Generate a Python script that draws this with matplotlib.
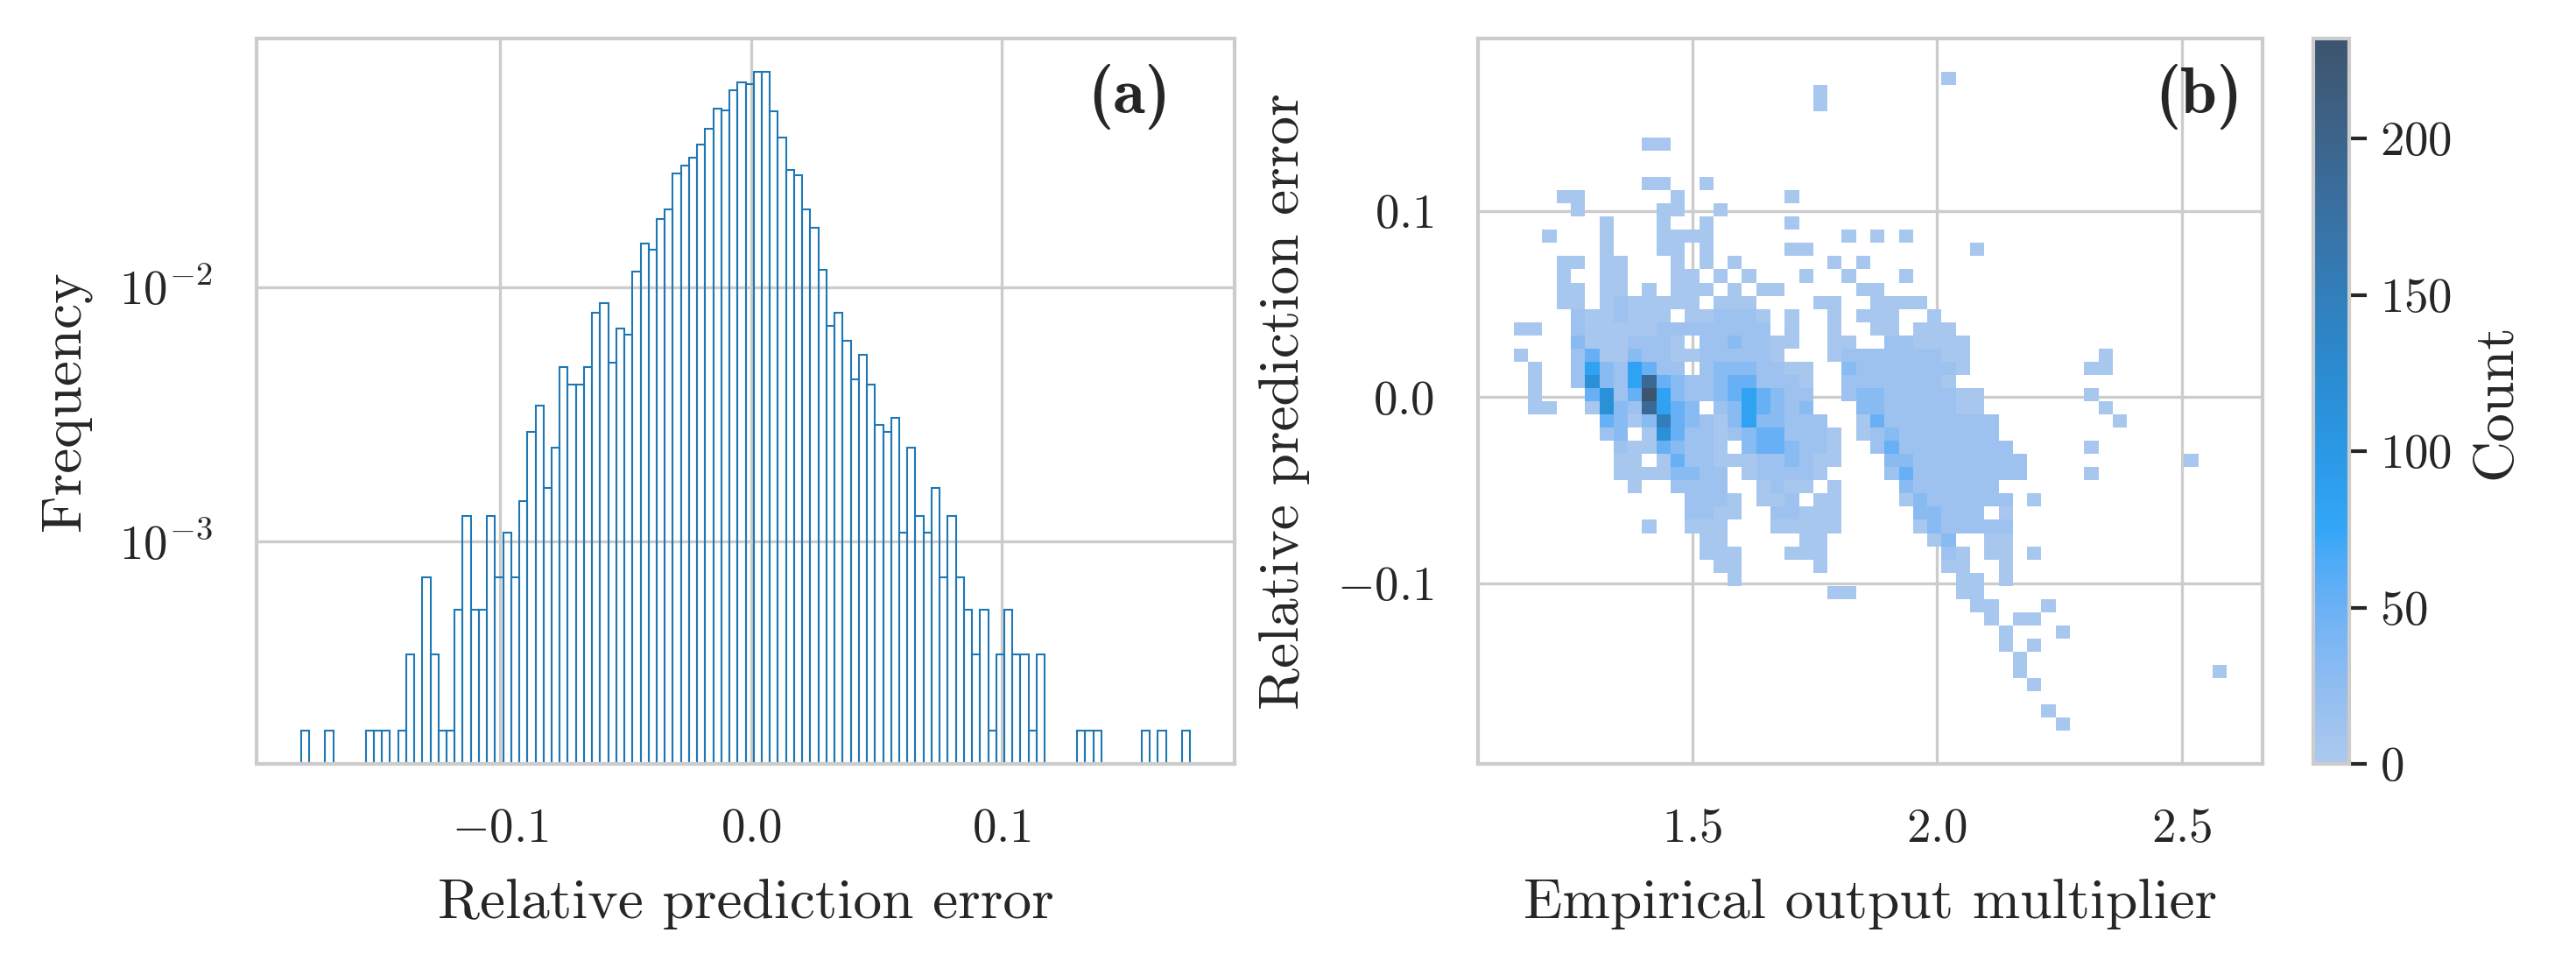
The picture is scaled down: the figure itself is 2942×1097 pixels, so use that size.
import numpy as np
import matplotlib
matplotlib.use("Agg")
import matplotlib.pyplot as plt
from matplotlib.colors import ListedColormap, to_rgba
from matplotlib.ticker import MultipleLocator
import seaborn as sns
from seaborn.external import husl

# panel (a): counts per bin of the relative prediction error (110 bins)
err_range = (-0.1795, 0.1752)
err_counts = [1, 0, 0, 1, 0, 0, 0, 0, 1, 1, 1, 0, 1, 2, 0, 4, 2, 1, 1, 3,
              7, 3, 3, 7, 4, 6, 4, 8, 15, 19, 9, 13, 27, 23, 23, 27, 44, 48, 28, 38,
              36, 64, 82, 78, 103, 112, 155, 166, 179, 202, 232, 278, 274, 329, 354, 348, 390, 390, 273, 215,
              160, 153, 112, 95, 65, 39, 44, 34, 24, 30, 23, 16, 15, 17, 6, 13, 7, 6, 9, 4,
              7, 4, 3, 2, 3, 1, 2, 3, 2, 2, 1, 2, 0, 0, 0, 0, 1, 1, 1, 0,
              0, 0, 0, 0, 1, 0, 1, 0, 0, 1]

# panel (b): 50 x 50 grid, multiplier on x, error on y
mult_range = (1.1352, 2.5923)
n_mult_bins = 50
n_err_bins = 50
# colour level read off each cell -> approximate count
level_counts = {1: 4, 2: 14, 3: 30, 4: 52, 5: 82, 6: 115, 7: 150, 8: 190, 9: 232}
# (row from top, first column, levels) ; '.' = empty cell
grid_segments = [
    (0, 30, "1"),
    (1, 21, "1"),
    (2, 21, "1"),
    (5, 9, "11"),
    (8, 9, "11..1"),
    (9, 3, "11......1.......1"),
    (10, 4, "1.....11..1"),
    (11, 6, "1...1..1.....1"),
    (12, 2, "1...1...1111.........1.1.1"),
    (13, 6, "1...11.1.....11...........1"),
    (14, 3, "11.11...1.1.1......1.1"),
    (15, 3, "1..11...11.1.1...1..1...1"),
    (16, 3, "11.11.1.111.1.11.....11"),
    (17, 3, "11.1211111.111....11..1111"),
    (18, 4, "2112111.112221.1..1.111..1"),
    (19, 0, "11..21111122222222.1..1..11.111"),
    (20, 4, "31112221.2232211..11..221111"),
    (21, 0, "1...241132211222221...1222222211.........1"),
    (22, 1, "1..25325422.23332211..322222221........11"),
    (23, 1, "1..26325843223442221..22222221"),
    (24, 1, "1...4624953223454322..2332222211.......1"),
    (25, 1, "11..16328543.2354323...332222211........1"),
    (26, 6, "4313743213533222..1422222222........1"),
    (27, 6, "23.16422123442221.1232222222"),
    (28, 7, "21143221.3443221..2422222222.....1"),
    (29, 7, "11.1422111223211...3322222222...........1"),
    (30, 7, "11113322.122221....2422222222....1"),
    (31, 8, "1..2222..1211.1....3222222"),
    (32, 12, "2221.112.11....13222222.1"),
    (33, 12, "2211..22111.....33222.1"),
    (34, 9, "1..111...11111.....1322222"),
    (35, 13, "11.....11.......13..11"),
    (36, 13, "111...111........21.11.1"),
    (37, 14, "11.....1........11..1"),
    (38, 15, "1...............11.1"),
    (39, 22, "11.......11"),
    (40, 32, "11...1"),
    (41, 33, "1.11"),
    (42, 34, "1...1"),
    (43, 34, "1.1"),
    (44, 35, "1"),
    (45, 35, "1.............1"),
    (46, 36, "1"),
    (48, 37, "1"),
    (49, 38, "1"),
]

sns.set_style("whitegrid")
sns.set_context("paper", font_scale=1.5)
plt.rcParams["font.family"] = "cmr10"
plt.rcParams["mathtext.fontset"] = "cm"
plt.rcParams["axes.formatter.use_mathtext"] = True
plt.rcParams["axes.labelsize"] = 15.7


def cmap_from_color(color):
    # same ramp seaborn uses for bivariate histograms
    r, g, b, _ = to_rgba(color)
    h, s, _ = husl.rgb_to_husl(r, g, b)
    xx = np.linspace(-1, 1, int(1.15 * 256))[:256]
    ramp = np.zeros((256, 3))
    ramp[:, 0] = h
    ramp[:, 1] = s * np.cos(xx)
    ramp[:, 2] = np.linspace(35, 80, 256)
    colors = np.clip([husl.husl_to_rgb(*hsl) for hsl in ramp], 0, 1)
    return ListedColormap(colors[::-1])


fig = plt.figure(figsize=(2942 / 300, 1097 / 300), dpi=300)
ax1 = fig.add_axes([0.0996, 0.2051, 0.3797, 0.7548])
ax2 = fig.add_axes([0.5738, 0.2051, 0.3045, 0.7548])
cax = fig.add_axes([0.8979, 0.2051, 0.0141, 0.7548])

# (a) histogram of errors, log frequency
counts = np.array(err_counts, dtype=float)
freq = counts / counts.sum()
err_edges = np.linspace(err_range[0], err_range[1], len(err_counts) + 1)
width = err_edges[1] - err_edges[0]
nz = counts > 0
ax1.bar(err_edges[:-1][nz], freq[nz], width, align="edge", fill=False,
        edgecolor="C0", linewidth=0.5)
ax1.set_yscale("log")
ax1.xaxis.set_major_locator(MultipleLocator(0.1))
ax1.tick_params(pad=7.3)
ax1.set_xlabel("Relative prediction error", labelpad=7.5)
ax1.set_ylabel("Frequency", labelpad=7.5)
ax1.text(0.935, 0.965, "(a)", transform=ax1.transAxes, ha="right", va="top",
         family="cmb10", fontsize=18)

# (b) 2d histogram
mult_edges = np.linspace(mult_range[0], mult_range[1], n_mult_bins + 1)
err_edges_b = np.linspace(err_range[0], err_range[1], n_err_bins + 1)
grid = np.zeros((n_err_bins, n_mult_bins))
for row, col0, levels in grid_segments:
    for i, ch in enumerate(levels):
        if ch != ".":
            grid[n_err_bins - 1 - row, col0 + i] = level_counts[int(ch)]

heat = np.ma.masked_less_equal(grid, 0)
mesh = ax2.pcolormesh(mult_edges, err_edges_b, heat, cmap=cmap_from_color("C0"),
                      vmin=0, vmax=grid.max())
mesh.sticky_edges.x[:] = []
mesh.sticky_edges.y[:] = []
ax2.autoscale_view()
cb = fig.colorbar(mesh, cax=cax)
cb.set_label("Count", labelpad=5.5)
ax2.xaxis.set_major_locator(MultipleLocator(0.5))
ax2.yaxis.set_major_locator(MultipleLocator(0.1))
ax2.tick_params(pad=7.3)
ax2.set_xlabel("Empirical output multiplier", labelpad=7.5)
ax2.set_ylabel("Relative prediction error", labelpad=7.5)
ax2.text(0.974, 0.965, "(b)", transform=ax2.transAxes, ha="right", va="top",
         family="cmb10", fontsize=18)

fig.savefig("out.png", dpi=300)
